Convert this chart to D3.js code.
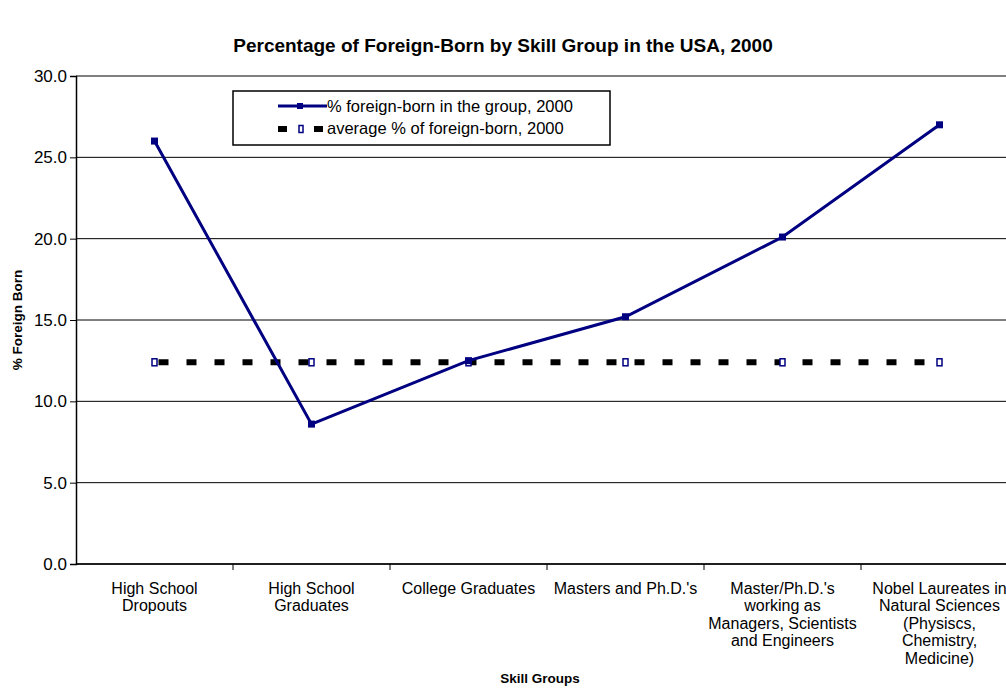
<!DOCTYPE html>
<html>
<head>
<meta charset="utf-8">
<script src="https://cdn.jsdelivr.net/npm/d3@7"></script>
<style>
  body { margin: 0; background: #fff; }
  text { font-family: Arial, "Liberation Sans", sans-serif; fill: #000; }
</style>
</head>
<body>
<svg class="chart"></svg>
<script>
var categories = [
  "High School\nDropouts",
  "High School\nGraduates",
  "College Graduates",
  "Masters and Ph.D.'s",
  "Master/Ph.D.'s\nworking as\nManagers, Scientists\nand Engineers",
  "Nobel Laureates in\nNatural Sciences\n(Physiscs,\nChemistry,\nMedicine)"
];
var foreignBorn = [26.0, 8.6, 12.5, 15.2, 20.1, 27.0];
var averageBorn = [12.4, 12.4, 12.4, 12.4, 12.4, 12.4];
var yTicks = [0, 5, 10, 15, 20, 25, 30];

var W = 1006, H = 690;
var margin = {top: 76, right: -12, bottom: 126, left: 76},
    width = W - margin.left - margin.right,
    height = H - margin.top - margin.bottom;

var navy = "#000080";

var svg = d3.select(".chart").attr("width", W).attr("height", H);

var x = d3.scaleBand().domain(categories).range([0, width]),
    y = d3.scaleLinear().domain([0, 30]).range([height, 0]);

var chart = svg.append("g")
    .attr("transform", "translate(" + margin.left + "," + margin.top + ")");

// gridlines
chart.selectAll(".grid")
    .data(yTicks)
  .enter().append("line")
    .attr("x1", 0).attr("x2", width)
    .attr("y1", function(d) { return y(d); })
    .attr("y2", function(d) { return y(d); })
    .attr("stroke", "#000").attr("stroke-width", 1);

// y axis
var yAxis = d3.axisLeft(y).tickValues(yTicks).tickSize(6).tickPadding(3)
    .tickFormat(d3.format(".1f"));
chart.append("g").call(yAxis)
    .call(function(g) {
      g.select(".domain").attr("stroke", "#000").attr("stroke-width", 1.5);
      g.selectAll("text").style("font-size", "17px");
    });

// x axis baseline + boundary ticks
chart.append("line")
    .attr("x1", 0).attr("x2", width)
    .attr("y1", height).attr("y2", height)
    .attr("stroke", "#000").attr("stroke-width", 1.5);
chart.selectAll(".xtick")
    .data(categories.slice(1))
  .enter().append("line")
    .attr("x1", function(d) { return x(d); })
    .attr("x2", function(d) { return x(d); })
    .attr("y1", height).attr("y2", height + 6)
    .attr("stroke", "#000");

// x labels
var lbl = chart.selectAll(".xlabel")
    .data(categories)
  .enter().append("text")
    .attr("text-anchor", "middle")
    .style("font-size", "16px")
    .attr("transform", function(d) {
      return "translate(" + (x(d) + x.bandwidth() / 2) + "," + (height + 30) + ")";
    });
lbl.selectAll("tspan")
    .data(function(d) { return d.split("\n"); })
  .enter().append("tspan")
    .attr("x", 0)
    .attr("y", function(d, i) { return i * 17.4; })
    .text(function(d) { return d; });

// average line (dashed)
var cx = function(d, i) { return x(categories[i]) + x.bandwidth() / 2; };
var avgLine = d3.line().x(cx).y(function(d) { return y(d); });
chart.append("path")
    .datum(averageBorn)
    .attr("d", avgLine)
    .attr("fill", "none")
    .attr("stroke", "#000")
    .attr("stroke-width", 6)
    .attr("stroke-dasharray", "10,18")
    .attr("stroke-dashoffset", -4);
chart.selectAll(".avgpt")
    .data(averageBorn)
  .enter().append("rect")
    .attr("x", function(d, i) { return cx(d, i) - 2.5; })
    .attr("y", function(d) { return y(d) - 3.5; })
    .attr("width", 5).attr("height", 7)
    .attr("fill", "#fff").attr("stroke", navy).attr("stroke-width", 1.5);

// foreign-born line
var fbLine = d3.line().x(cx).y(function(d) { return y(d); });
chart.append("path")
    .datum(foreignBorn)
    .attr("d", fbLine)
    .attr("fill", "none")
    .attr("stroke", navy)
    .attr("stroke-width", 3);
chart.selectAll(".fbpt")
    .data(foreignBorn)
  .enter().append("rect")
    .attr("x", function(d, i) { return cx(d, i) - 3.5; })
    .attr("y", function(d) { return y(d) - 3.5; })
    .attr("width", 7).attr("height", 7)
    .attr("fill", navy);

// legend
var legend = svg.append("g").attr("transform", "translate(233,91)");
legend.append("rect")
    .attr("width", 377).attr("height", 54)
    .attr("fill", "#fff").attr("stroke", "#000").attr("stroke-width", 1.5);
legend.append("line")
    .attr("x1", 45).attr("x2", 94).attr("y1", 15).attr("y2", 15)
    .attr("stroke", navy).attr("stroke-width", 3);
legend.append("rect")
    .attr("x", 64).attr("y", 12).attr("width", 6).attr("height", 6).attr("fill", navy);
legend.append("text").attr("x", 94).attr("y", 21).style("font-size", "16.5px")
    .text("% foreign-born in the group, 2000");
legend.append("rect")
    .attr("x", 45).attr("y", 35).attr("width", 9).attr("height", 6).attr("fill", "#000");
legend.append("rect")
    .attr("x", 81).attr("y", 35).attr("width", 9).attr("height", 6).attr("fill", "#000");
legend.append("rect")
    .attr("x", 66).attr("y", 34.5).attr("width", 4).attr("height", 7)
    .attr("fill", "#fff").attr("stroke", navy).attr("stroke-width", 1.5);
legend.append("text").attr("x", 94).attr("y", 43).style("font-size", "16.5px")
    .text("average % of foreign-born, 2000");

// title and axis titles
svg.append("text")
    .attr("x", 503).attr("y", 52)
    .attr("text-anchor", "middle")
    .style("font-size", "19px").style("font-weight", "bold")
    .text("Percentage of Foreign-Born by Skill Group in the USA, 2000");
svg.append("text")
    .attr("transform", "translate(22," + (margin.top + height / 2) + ") rotate(-90)")
    .attr("text-anchor", "middle")
    .style("font-size", "13.5px").style("font-weight", "bold")
    .text("% Foreign Born");
svg.append("text")
    .attr("x", 540).attr("y", 683)
    .attr("text-anchor", "middle")
    .style("font-size", "13.5px").style("font-weight", "bold")
    .text("Skill Groups");
</script>
</body>
</html>
